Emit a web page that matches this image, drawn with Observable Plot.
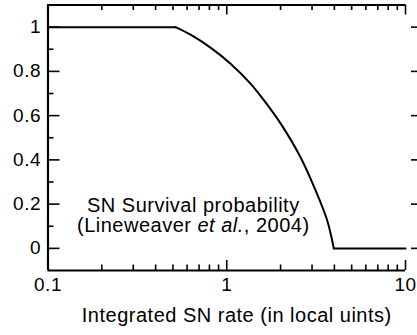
<!DOCTYPE html>
<html><head><meta charset="utf-8">
<script src="https://cdn.jsdelivr.net/npm/d3@7"></script>
<script src="https://cdn.jsdelivr.net/npm/@observablehq/plot@0.6"></script>
<style>body{margin:0;background:#fff}</style>
</head><body><div id="chart"></div>
<script>
const xDomain = [0.1, 10];
const yDomain = [-0.1, 1.1];
const xTickLabels = [0.1, 1, 10];
const yTickLabels = [0, 0.2, 0.4, 0.6, 0.8, 1];
const xMinorTicks = [0.2, 0.3, 0.4, 0.5, 0.6, 0.7, 0.8, 0.9, 2, 3, 4, 5, 6, 7, 8, 9];
const yMinorTicks = [0.1, 0.3, 0.5, 0.7, 0.9];
const curveX = [0.1, 0.517, 0.627, 0.811, 1.05, 1.358, 1.648, 2.0, 2.586, 3.136, 3.648, 3.97, 10];
const curveY = [1, 1, 0.966, 0.9075, 0.835, 0.745, 0.66, 0.565, 0.412, 0.263, 0.126, 0, 0];
const annotationText = "SN Survival probability\n(Lineweaver et al., 2004)";
const annotationItalic = "et al.";
const annotationX = [0.65];
const annotationY = [0.15];
const xLabel = "Integrated SN rate (in local uints)";

const W = 417, H = 335, mL = 47.5, mR = 12, mT = 4.5, mB = 65;
const fw = W - mL - mR, fh = H - mT - mB;

const pts = curveX.map((x, i) => ({x, y: curveY[i]}));
const lastHigh = curveY.lastIndexOf(1);
const firstLow = curveY.indexOf(0);
const high = pts.slice(0, lastHigh + 1);
const fall = pts.slice(lastHigh, firstLow + 1);
const low = pts.slice(firstLow);

const svg = Plot.plot({
  width: W, height: H,
  marginLeft: mL, marginRight: mR, marginTop: mT, marginBottom: mB,
  style: {fontFamily: "'Liberation Sans', Arial, Helvetica, sans-serif", fontSize: "19px", background: "#fff", color: "#000", letterSpacing: "0.5px"},
  x: {type: "log", domain: xDomain},
  y: {domain: yDomain},
  marks: [
    Plot.axisX({ticks: xTickLabels, tickSize: 0, tickPadding: 7, tickFormat: d => String(d), label: null, fontSize: 19}),
    Plot.axisY({ticks: yTickLabels, tickSize: 0, tickPadding: 7, tickFormat: d => String(d), label: null, fontSize: 19}),
    // frame
    Plot.ruleY([yDomain[1]], {stroke: "#000", strokeWidth: 2}),
    Plot.ruleY([yDomain[0]], {stroke: "#000", strokeWidth: 2}),
    Plot.ruleX([xDomain[0]], {stroke: "#000", strokeWidth: 2.2}),
    // x ticks (bottom, inward)
    Plot.ruleX(xTickLabels, {x: d => d, insetTop: fh - 10, stroke: "#000", strokeWidth: 1.6}),
    Plot.ruleX(xMinorTicks, {x: d => d, insetTop: fh - 5.5, stroke: "#000", strokeWidth: 1.6}),
    // x ticks (top, inward)
    Plot.ruleX(xTickLabels, {x: d => d, insetBottom: fh - 10, stroke: "#000", strokeWidth: 1.6}),
    Plot.ruleX(xMinorTicks, {x: d => d, insetBottom: fh - 5.5, stroke: "#000", strokeWidth: 1.6}),
    // y ticks (left, inward)
    Plot.ruleY(yTickLabels, {y: d => d, insetRight: fw - 12, stroke: "#000", strokeWidth: 1.6}),
    Plot.ruleY(yMinorTicks, {y: d => d, insetRight: fw - 6, stroke: "#000", strokeWidth: 1.6}),
    // y ticks (right)
    Plot.ruleY(yTickLabels, {y: d => d, insetLeft: fw + 6, insetRight: -12, stroke: "#000", strokeWidth: 1.6}),
    // curve
    Plot.line(high, {x: "x", y: "y", stroke: "#000", strokeWidth: 2}),
    Plot.line(fall, {x: "x", y: "y", stroke: "#000", strokeWidth: 2, curve: "catmull-rom"}),
    Plot.line(low, {x: "x", y: "y", stroke: "#000", strokeWidth: 2}),
    // annotation
    Plot.text([annotationText], {x: () => annotationX[0], y: () => annotationY[0], lineAnchor: "middle", lineHeight: 1.0, fontSize: 20, fill: "#000"}),
    // x label
    Plot.text([xLabel], {frameAnchor: "bottom", dy: 45, dx: 10, lineAnchor: "middle", fontSize: 20, fill: "#000"})
  ]
});

svg.querySelectorAll("tspan, text").forEach(el => {
  if (el.children.length === 0 && el.textContent.includes(annotationItalic)) {
    const parts = el.textContent.split(annotationItalic);
    el.textContent = "";
    el.appendChild(document.createTextNode(parts[0]));
    const t = document.createElementNS("http://www.w3.org/2000/svg", "tspan");
    t.setAttribute("font-style", "italic");
    t.textContent = annotationItalic;
    el.appendChild(t);
    el.appendChild(document.createTextNode(parts[1]));
  }
});

document.getElementById("chart").appendChild(svg);
</script>
</body></html>
